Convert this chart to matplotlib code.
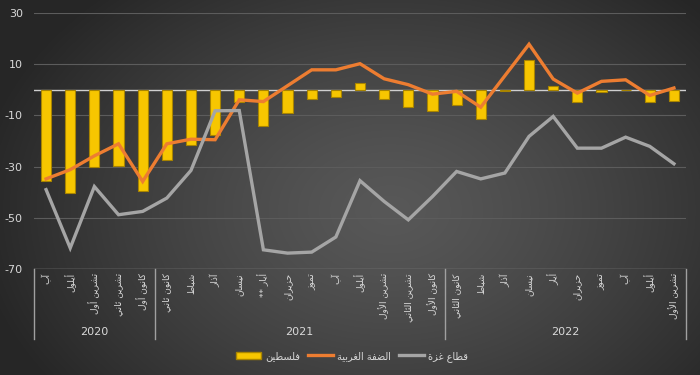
import numpy as np
import matplotlib
matplotlib.use('Agg')
import matplotlib.pyplot as plt
from matplotlib.patches import Patch
from matplotlib.lines import Line2D

# ── Dados ─────────────────────────────────────────────────────────────────────
months = ['آب', 'أيلول', 'تشرين أول', 'تشرين ثاني', 'كانون أول',
          'كانون ثاني', 'شباط', 'آذار', 'نيسان', 'أيار **', 'حزيران', 'تموز',
          'آب', 'أيلول', 'تشرين الأول', 'تشرين الثاني', 'كانون الأول',
          'كانون الثاني', 'شباط', 'آذار', 'نيسان', 'أيار', 'حزيران', 'تموز',
          'آب', 'أيلول', 'تشرين الأول']
years = ['2020', '2021', '2022']
year_counts = [5, 12, 10]

palestine = [-35.8, -40.4, -30.0, -29.6, -39.5, -27.6, -21.5, -17.6, -4.8,
             -14.1, -9.1, -3.6, -2.9, 2.6, -3.6, -6.8, -8.1, -5.9, -11.3,
             -0.3, 11.7, 1.6, -4.8, -0.9, -0.2, -4.9, -4.3]
west_bank = [-34.8, -31.2, -25.8, -21.1, -35.8, -21.1, -19.3, -19.5, -3.9,
             -4.6, 1.6, 7.8, 7.8, 10.2, 4.3, 2.0, -1.7, -0.6, -6.8,
             5.5, 17.8, 4.2, -1.3, 3.3, 3.9, -2.2, 0.7]
gaza = [-39.0, -61.8, -37.8, -48.8, -47.5, -42.3, -31.5, -8.2, -8.1,
        -62.5, -63.8, -63.4, -57.5, -35.5, -43.6, -50.8, -41.7, -31.9, -34.8,
        -32.5, -18.2, -10.4, -22.8, -22.8, -18.5, -22.1, -28.9]

series_names = ['فلسطين', 'الضفة الغربية', 'قطاع غزة']

# ── Formas contextuais do árabe (matplotlib não faz shaping) ─────────────────
FORMS = {
    'آ': (0xFE81, 2), 'أ': (0xFE83, 2), 'ا': (0xFE8D, 2), 'ب': (0xFE8F, 4),
    'ة': (0xFE93, 2), 'ت': (0xFE95, 4), 'ث': (0xFE99, 4), 'ح': (0xFEA1, 4),
    'ذ': (0xFEAB, 2), 'ر': (0xFEAD, 2), 'ز': (0xFEAF, 2), 'س': (0xFEB1, 4),
    'ش': (0xFEB5, 4), 'ض': (0xFEBD, 4), 'ط': (0xFEC1, 4), 'ع': (0xFEC9, 4),
    'غ': (0xFECD, 4), 'ف': (0xFED1, 4), 'ق': (0xFED5, 4), 'ك': (0xFED9, 4),
    'ل': (0xFEDD, 4), 'م': (0xFEE1, 4), 'ن': (0xFEE5, 4), 'و': (0xFEED, 2),
    'ي': (0xFEF1, 4),
}
LAM_ALEF = {'آ': 0xFEF5, 'أ': 0xFEF7, 'ا': 0xFEFB}


def arabic(text):
    tokens = []
    i = 0
    while i < len(text):
        c = text[i]
        if c == 'ل' and i + 1 < len(text) and text[i + 1] in LAM_ALEF:
            tokens.append((LAM_ALEF[text[i + 1]], 2))
            i += 2
            continue
        tokens.append(FORMS.get(c, c))
        i += 1
    out = []
    for k, t in enumerate(tokens):
        if isinstance(t, str):
            out.append(t)
            continue
        base, n = t
        prev = tokens[k - 1] if k > 0 else None
        nxt = tokens[k + 1] if k + 1 < len(tokens) else None
        jp = isinstance(prev, tuple) and prev[1] == 4
        jn = n == 4 and isinstance(nxt, tuple)
        form = (3 if jn else 1) if jp else (2 if jn else 0)
        out.append(chr(base + form))
    return ''.join(reversed(out))


TXT = '#d9d9d9'
plt.rcParams['font.family'] = ['DejaVu Sans']
plt.rcParams['axes.unicode_minus'] = False

# ── Figura e fundo em degradê ─────────────────────────────────────────────────
fig = plt.figure(figsize=(7, 3.75), dpi=100)
bg = fig.add_axes([0, 0, 1, 1], zorder=-10)
yy, xx = np.mgrid[0:375, 0:700]
r = np.sqrt(((xx - 390) / 420) ** 2 + ((yy - 210) / 300) ** 2)
r = np.clip(r, 0, 1)
c0, c1 = np.array([0x58, 0x58, 0x58]), np.array([0x26, 0x26, 0x26])
img = (c0 + (c1 - c0) * r[..., None] ** 1.3) / 255
bg.imshow(img, aspect='auto', extent=[0, 1, 0, 1])
bg.axis('off')

ax = fig.add_axes([34 / 700, 1 - 269 / 375, 652 / 700, 256 / 375])
ax.set_facecolor('none')

x = np.arange(len(months))
ax.bar(x, palestine, width=0.42, color='#F7C600', edgecolor='#A88400',
       linewidth=0.8, zorder=3)
ax.plot(x, west_bank, color='#ED7D31', lw=2.4, zorder=4, solid_joinstyle='miter')
ax.plot(x, gaza, color='#A5A5A5', lw=2.4, zorder=4, solid_joinstyle='miter')

ax.set_xlim(-0.5, len(months) - 0.5)
ax.set_ylim(-70, 30)
ax.set_yticks(np.arange(-70, 31, 20))
ax.yaxis.grid(True, color='#5c5c5c', lw=0.8, zorder=0)
ax.axhline(0, color='#cfcfcf', lw=1, zorder=2)
ax.axhline(-70, color='#8c8c8c', lw=1, zorder=2)
for s in ax.spines.values():
    s.set_visible(False)

ax.tick_params(axis='y', length=0, pad=8, labelsize=8, labelcolor=TXT)
ax.set_xticks(x)
ax.set_xticklabels([arabic(m) for m in months], rotation=90, fontsize=6.5,
                   color=TXT)
ax.tick_params(axis='x', length=0, pad=3)

# ── Grupos de anos ────────────────────────────────────────────────────────────
trans = ax.get_xaxis_transform()
edges = np.concatenate([[0], np.cumsum(year_counts)]) - 0.5
for e in edges:
    ax.plot([e, e], [0, -0.273], transform=trans, color='#a0a0a0', lw=1,
            clip_on=False)
for k, yr in enumerate(years):
    ax.text((edges[k] + edges[k + 1]) / 2, -0.246, yr, transform=trans,
            ha='center', va='center', fontsize=8, color=TXT)

# ── Legenda ───────────────────────────────────────────────────────────────────
handles = [Patch(facecolor='#F7C600', edgecolor='#A88400'),
           Line2D([], [], color='#ED7D31', lw=2.4),
           Line2D([], [], color='#A5A5A5', lw=2.4)]
leg = fig.legend(handles, [arabic(n) for n in series_names], loc='center',
                 bbox_to_anchor=(0.503, 0.05), ncol=3, frameon=False,
                 fontsize=7, labelcolor=TXT, handlelength=2.6,
                 columnspacing=0.8, handletextpad=0.4)

fig.savefig('out.png', dpi=100)
